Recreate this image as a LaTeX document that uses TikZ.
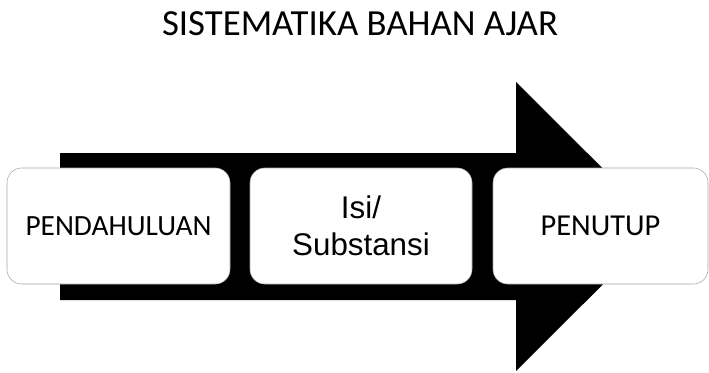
\documentclass[tikz,border=0pt]{standalone}
\usepackage{fontspec}
\setmainfont{Carlito}
\newfontfamily\arialfont{Liberation Sans}
\tikzset{
  stage/.style={draw=gray!70,thin,fill=white,rounded corners=11pt,minimum width=166.5pt,minimum height=87pt,inner sep=0pt,align=center,font=\fontsize{22.8}{27}\selectfont}
}

\begin{document}
\begin{tikzpicture}[x=0.75pt,y=-0.75pt]
\useasboundingbox (0,0) rectangle (709,372);
\node[anchor=base,font=\fontsize{27.6}{32}\selectfont] (title) at (360,35) {SISTEMATIKA BAHAN AJAR};
\fill (60,153) -- (516,153) -- (516,82) -- (661,226.5) -- (516,371) -- (516,300) -- (60,300) -- cycle;
\node[stage,minimum width=167.25pt,font=\fontsize{22}{26}\selectfont] (pend) at (118.5,226) {PENDAHULUAN};
\node[stage,font=\arialfont\fontsize{23.5}{28}\selectfont] (isi) at (361,226) {Isi/\\Substansi};
\node[stage,minimum width=161.25pt] (penutup) at (600.5,226) {PENUTUP};
\end{tikzpicture}
\end{document}
